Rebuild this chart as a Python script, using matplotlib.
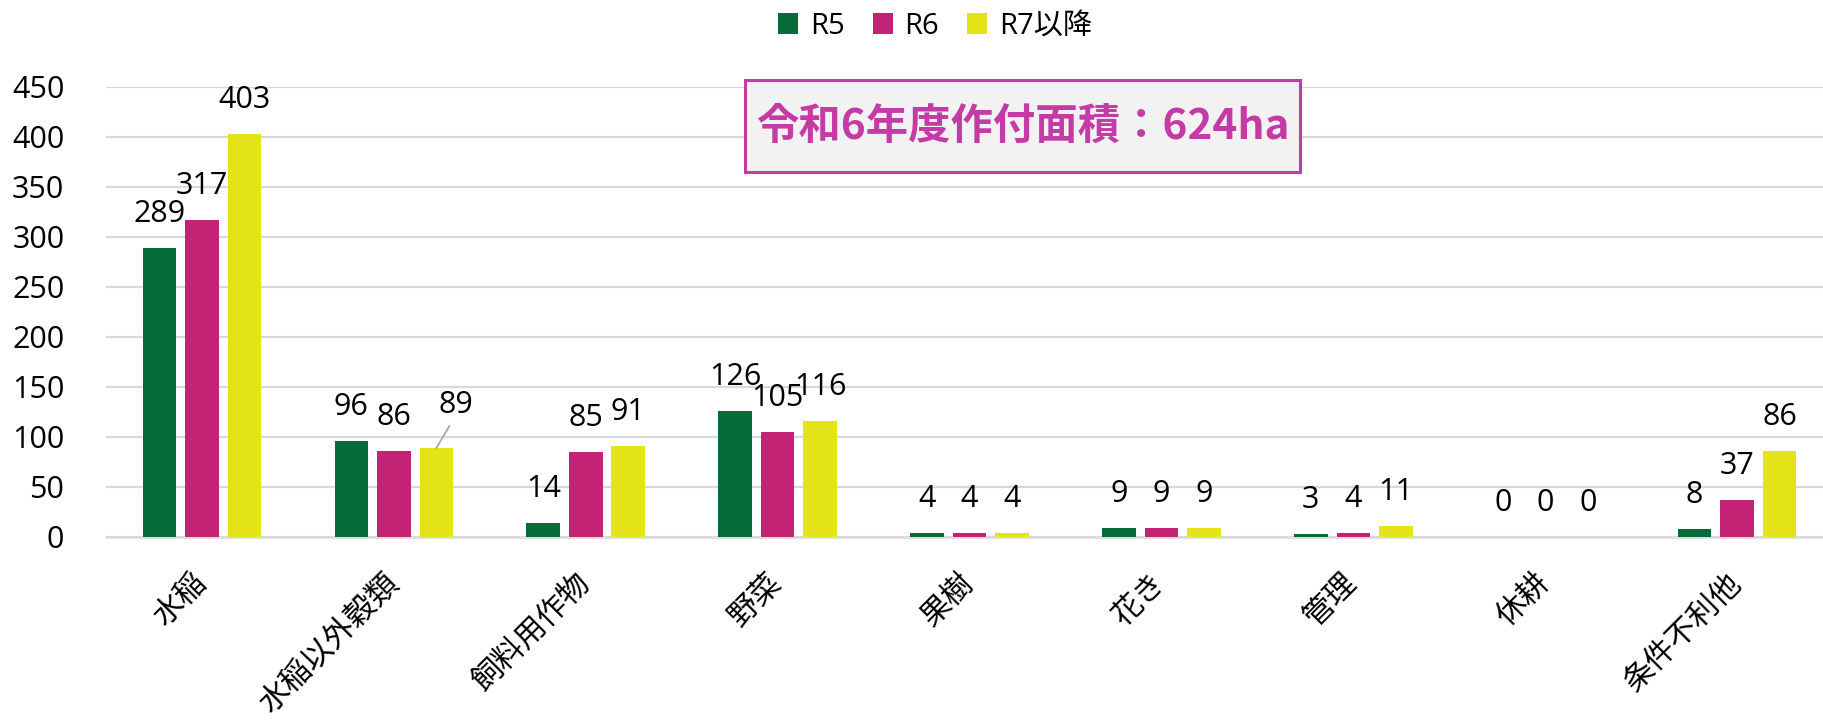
import matplotlib
matplotlib.use("Agg")
import matplotlib.pyplot as plt
from matplotlib.patches import Rectangle
import numpy as np

plt.rcParams['font.family'] = ['Open Sans', 'Noto Sans CJK JP', 'DejaVu Sans']

categories = ["水稲", "水稲以外穀類", "飼料用作物", "野菜", "果樹", "花き", "管理", "休耕", "条件不利他"]
series_names = ["R5", "R6", "R7以降"]
r5 = [289, 96, 14, 126, 4, 9, 3, 0, 8]
r6 = [317, 86, 85, 105, 4, 9, 4, 0, 37]
r7 = [403, 89, 91, 116, 4, 9, 11, 0, 86]
yticks = [0, 50, 100, 150, 200, 250, 300, 350, 400, 450]
title_text = "令和6年度作付面積：624ha"

colors = ["#066B38", "#C42275", "#E3E317"]

W, H = 1823, 721
fig = plt.figure(figsize=(W / 100, H / 100), dpi=100)
ax = fig.add_axes([106 / W, 1 - 537 / H, 1 - 106 / W, (537 - 87) / H])

x = np.arange(len(categories))
width = 0.175
pitch = 0.2215
series = [r5, r6, r7]
bars_all = []
for i, (vals, c, name) in enumerate(zip(series, colors, series_names)):
    bars = ax.bar(x + (i - 1) * pitch, vals, width=width, color=c, label=name, zorder=3)
    bars_all.append(bars)

# data labels
for si, bars in enumerate(bars_all):
    for ci, b in enumerate(bars):
        v = series[si][ci]
        cx = b.get_x() + b.get_width() / 2
        if si == 2 and ci == 1:
            ax.annotate(str(v), xy=(cx, v), xytext=(20, 35), textcoords='offset pixels',
                        ha='center', va='baseline', fontsize=22, color='black',
                        arrowprops=dict(arrowstyle='-', color='#A6A6A6', lw=1.3,
                                        shrinkA=0, shrinkB=0,
                                        relpos=(0.3, -0.2)), zorder=5)
        else:
            ax.annotate(str(v), xy=(cx, v), xytext=(0, 26), textcoords='offset pixels',
                        ha='center', va='baseline', fontsize=22, color='black', zorder=5)

ax.set_ylim(0, 450)
ax.set_yticks(yticks)
ax.set_xlim(-0.5, -0.5 + (W - 106) / 191.9)
ax.set_xticks(x)
ax.set_xticklabels(categories, rotation=45, ha='right', va='center',
                   rotation_mode='anchor', fontsize=22)
ax.tick_params(axis='x', length=0, pad=30)
ax.tick_params(axis='y', length=0, pad=30, labelsize=22)

ax.grid(axis='y', color='#D9D9D9', linewidth=1.6, zorder=0)
for s in ['top', 'right', 'left']:
    ax.spines[s].set_visible(False)
ax.spines['bottom'].set_color('#D9D9D9')
ax.spines['bottom'].set_linewidth(1.8)
ax.set_axisbelow(True)

leg = fig.legend(loc='center', bbox_to_anchor=(935 / W, 1 - 26 / H), ncol=3, frameon=False,
                 fontsize=21, handlelength=0.7, handleheight=0.7, handletextpad=0.4,
                 columnspacing=0.95)

# title box
bx0, bx1, by0, by1 = 745, 1300, 80, 172
fig.patches.append(Rectangle((bx0 / W, 1 - by1 / H), (bx1 - bx0) / W, (by1 - by0) / H,
                             transform=fig.transFigure, facecolor='#F2F2F2',
                             edgecolor='#C43BA5', linewidth=2.2, zorder=5))
fig.text((bx0 + bx1) / 2 / W, 1 - 127 / H, title_text,
         ha='center', va='center', fontsize=30.5, fontweight='bold', color='#C43BA5',
         family=['Noto Sans CJK JP', 'DejaVu Sans'], zorder=6)

fig.savefig("out.png", dpi=100)
